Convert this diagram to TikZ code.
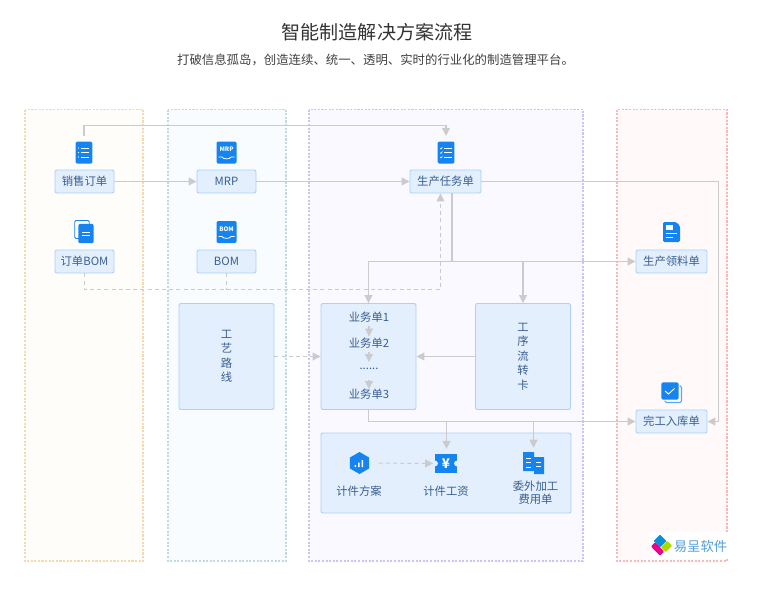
\documentclass[tikz,border=0pt]{standalone}
\usepackage{fontspec}
\setmainfont{Noto Sans CJK SC}
\usetikzlibrary{arrows.meta,shapes.geometric,calc}
\definecolor{connc}{HTML}{CBCBCE}
\definecolor{ink}{HTML}{3A5F90}
\definecolor{nfill}{HTML}{E3EFFC}
\definecolor{nline}{HTML}{A9D1F9}
\definecolor{iblue}{HTML}{1584F0}
\definecolor{pAline}{HTML}{F3D9B1}
\definecolor{pAfill}{HTML}{FFFDF9}
\definecolor{pBline}{HTML}{C0DAE0}
\definecolor{pBfill}{HTML}{F9FCFF}
\definecolor{pCline}{HTML}{CBC4F5}
\definecolor{pCfill}{HTML}{FAF9FF}
\definecolor{pDline}{HTML}{F7B9B9}
\definecolor{pDfill}{HTML}{FFF9F9}
\tikzset{
  panelbox/.style={line width=.8pt,dash pattern=on 1.6pt off 1.1pt},
  flowline/.style={draw=connc,line width=.8pt,-{Triangle[length=6pt,width=6pt,fill=connc]}},
  plainline/.style={draw=connc,line width=.8pt},
  dashline/.style={draw=connc,line width=.75pt,dash pattern=on 3pt off 2.4pt},
  dashflow/.style={dashline,-{Triangle[length=6pt,width=6pt,fill=connc]}},
  basebox/.style={draw=nline,fill=nfill,rounded corners=1.5pt,line width=.7pt,text=ink,font=\fontsize{8.5}{10.9}\selectfont,inner sep=0pt,align=center},
  smallbox/.style={basebox,minimum width=44.25pt,minimum height=17.25pt},
  widebox/.style={basebox,minimum width=53.25pt,minimum height=17.25pt},
  largebox/.style={basebox,minimum width=71.25pt,minimum height=79.5pt},
  txt/.style={text=ink,font=\fontsize{8.5}{12}\selectfont,inner sep=0pt,align=center},
  iconbox/.style={fill=iblue,rounded corners=1pt,inner sep=0pt,minimum width=#1},
  wline/.style={draw=white,line width=.6pt},
}
\begin{document}
\begin{tikzpicture}[x=.75pt,y=-.75pt]
\useasboundingbox (0,0) rectangle (764,593);
\fill[white] (0,0) rectangle (764,593);
% panels
\draw[panelbox,draw=pAline,fill=pAfill] (25,109.5) rectangle (143,561);
\draw[panelbox,draw=pBline,fill=pBfill] (168,109.5) rectangle (286,561);
\draw[panelbox,draw=pCline,fill=pCfill] (309,109.5) rectangle (583,561);
\draw[panelbox,draw=pDline,fill=pDfill] (617,109.5) rectangle (727,561);
% title
\node[inner sep=0pt,text=black!80,font=\fontsize{14.3}{17}\selectfont] (title) at (377,32) {智能制造解决方案流程};
\node[inner sep=0pt,text=black!75,font=\fontsize{9.3}{12}\selectfont] (subtitle) at (375.5,59.5) {打破信息孤岛，创造连续、统一、透明、实时的行业化的制造管理平台。};
% boxes
\node[smallbox] (sales) at (84.5,181.5) {销售订单};
\node[smallbox] (mrp) at (226.5,181.5) {MRP};
\node[widebox] (task) at (445.5,181.5) {生产任务单};
\node[smallbox] (obom) at (84.5,261.5) {订单BOM};
\node[smallbox] (bom) at (226.5,261.5) {BOM};
\node[widebox] (pick) at (671.5,261.5) {生产领料单};
\node[widebox] (finish) at (671.5,421.5) {完工入库单};
\node[largebox] (route) at (226.5,356.5) {工\\艺\\路\\线};
\node[largebox] (biz) at (368.5,356.5) {};
\node[largebox] (card) at (523,356.5) {工\\序\\流\\转\\卡};
\node[basebox,minimum width=187.5pt,minimum height=60pt] (cost) at (446,473) {};
% text inside biz
\node[txt] (b1) at (369,317.5) {业务单1};
\node[txt] (b2) at (369,343) {业务单2};
\node[txt] (bd) at (369,369) {......};
\node[txt] (b3) at (369,394) {业务单3};
% icons
\node[iconbox=12.5pt,minimum height=16.5pt] (icsales) at (84,152.5) {};
\foreach \y in {148,152.5,157}{
  \fill[white] (78.5,\y) circle (.5pt);
  \draw[wline] (81,\y) -- (89,\y);
}
\node[iconbox=15pt,minimum height=16.5pt] (icmrp) at (226.5,152.5) {};
\node[text=white,inner sep=0pt,font=\fontsize{4.6}{5}\bfseries\selectfont] (tmrp) at (226.5,149.5) {MRP};
\draw[wline] (218.5,157) -- (222,157) .. controls (223,159.5) and (230,159.5) .. (231,157) -- (234.5,157);
\node[iconbox=15pt,minimum height=16.5pt] (icbom) at (226.5,232) {};
\node[text=white,inner sep=0pt,font=\fontsize{4.6}{5}\bfseries\selectfont] (tbom) at (226.5,229) {BOM};
\draw[wline] (218.5,236.5) -- (222,236.5) .. controls (223,239) and (230,239) .. (231,236.5) -- (234.5,236.5);
% order bom icon
\node[iconbox=11pt,minimum height=13.5pt,draw=iblue,fill=white,line width=.6pt] (icobomb) at (82,229.5) {};
\node[iconbox=11.5pt,minimum height=14.5pt] (icobom) at (86,233.5) {};
\draw[wline] (82,232) -- (90,232) (82,235.5) -- (90,235.5);
% task icon
\node[iconbox=12.5pt,minimum height=16.5pt] (ictask) at (446,152.5) {};
\foreach \y in {148,152.5,157}{
  \draw[white,line width=.4pt] (440,\y) -- (441,\y+1) -- (442.5,\y-1);
  \draw[wline] (444,\y) -- (452,\y);
}
% doc icon
\fill[iblue,rounded corners=1pt] (663,222) -- (676,222) -- (680,226) -- (680,242) -- (663,242) -- cycle;
\node[inner sep=0pt,minimum width=12.7pt,minimum height=15pt] (icpick) at (671.5,232) {};
\fill[white] (666,225) rectangle (673,230);
\draw[wline] (666,233.5) -- (677,233.5) (666,237) -- (673,237);
% finish icon
\draw[iblue!70!white,line width=.8pt,rounded corners=1pt] (679.5,386) -- (681.5,386) -- (681.5,402.5) -- (665,402.5) -- (665,400.5);
\node[iconbox=13pt,minimum height=13pt,rounded corners=1.5pt] (icfinish) at (670,391) {};
\draw[white,line width=.7pt] (665,391) -- (668.5,394) -- (674.5,388.5);
% hexagon
\node[regular polygon,regular polygon sides=6,shape border rotate=30,fill=iblue,inner sep=0pt,minimum size=16.5pt] (ichex) at (359.5,463) {};
\fill[white] (354.5,465) rectangle (356,467) (358,462.5) rectangle (359.5,467) (361.5,460) rectangle (363,467);
% yen ticket
\fill[iblue] (435,454) rectangle (457,473);
\fill[nfill] (435,463.5) circle (2.2pt) (457,463.5) circle (2.2pt);
\node[inner sep=0pt,minimum width=15pt,minimum height=13.5pt,text=white,font=\fontsize{10}{11}\bfseries\selectfont] (icyen) at (446,463.5) {¥};
% outsource icon
\fill[iblue] (523,452) -- (534,452) -- (534,457) -- (544,457) -- (544,474) -- (534,474) -- (534,471) -- (523,471) -- cycle;
\node[inner sep=0pt,minimum width=15.5pt,minimum height=16.5pt] (icout) at (533.5,463) {};
\draw[wline] (526,458) -- (531,458) (526,462.5) -- (531,462.5) (526,467) -- (531,467) (536,462) -- (541,462) (536,466) -- (541,466);
% cost labels
\node[txt] (lhex) at (359,491) {计件方案};
\node[txt] (lyen) at (446,491) {计件工资};
\node[txt,font=\fontsize{8.5}{9.7}\selectfont] (lout) at (535.5,493) {委外加工\\费用单};
% logo
\fill[white] (649,532) rectangle (728,559);
\fill[cyan!75!blue,rounded corners=.6pt,rotate around={45:(660,541)}] (655.5,536.5) rectangle (664.5,545.5);
\fill[lime!70!olive,rounded corners=.6pt,rotate around={45:(666.5,546.5)}] (662,543) rectangle (671,550);
\fill[magenta,rounded corners=1pt,rotate around={-45:(657.5,549)}] (651,546) rectangle (664,552);
\node[inner sep=0pt,text=cyan!65!blue!70,font=\fontsize{10}{12}\selectfont] (logo) at (700.5,546) {易呈软件};
% connectors
\draw[flowline,shorten <=4.3pt,shorten >=4pt] (icsales.north) -- ++(0,-16) -| (ictask.north);
\draw[flowline] (sales.east) -- (mrp.west);
\draw[flowline] (mrp.east) -- (task.west);
\coordinate (farright) at (718.5,181.5);
\draw[flowline] (task.east) -- (farright) |- (finish.east);
\coordinate (fork) at (452,261.5);
\draw[plainline] (fork |- task.south) -- (fork);
\draw[flowline] (fork) -- (fork -| pick.west);
\draw[flowline] (fork) -| (biz.north);
\draw[flowline] (fork) -| (card.north);
\coordinate (dj) at (440.5,289.5);
\draw[dashflow] (obom.south) |- (dj) -- (dj |- task.south);
\draw[dashline] (bom.south) -- (bom.south |- dj);
\draw[dashflow] (route.east) -- (biz.west);
\draw[flowline] (card.west) -- (biz.east);
\draw[flowline] (b1) ++(0,8) -- ++(0,11);
\draw[flowline] (b2) ++(0,9) -- ++(0,10);
\draw[flowline] (bd) ++(0,11) -- ++(0,9);
\draw[flowline] (biz.south) |- (finish.west);
\coordinate (m1) at (446.5,421.5);
\coordinate (m2) at (533.5,421.5);
\draw[flowline,shorten >=4pt] (m1) -- (m1 |- icyen.north);
\draw[flowline,shorten >=3pt] (m2) -- (icout.north);
\draw[dashflow,shorten <=7pt,shorten >=2pt] (ichex.east) -- (icyen.west);
\end{tikzpicture}
\end{document}
